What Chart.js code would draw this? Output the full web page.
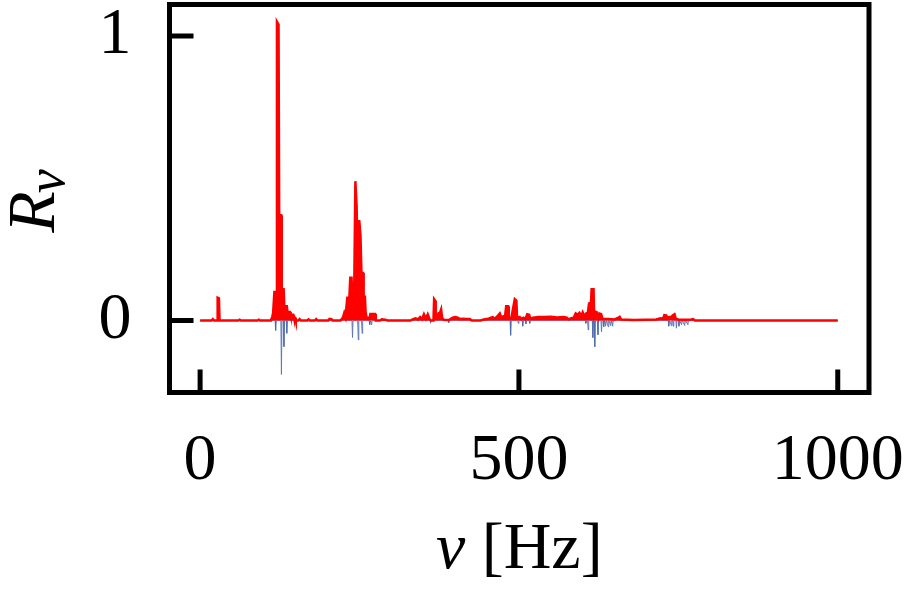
<!DOCTYPE html>
<html>
<head>
<meta charset="utf-8">
<script src="https://cdn.jsdelivr.net/npm/chart.js@4"></script>
<style>
  html, body { margin: 0; padding: 0; background: #fff; }
  #wrap { width: 911px; height: 591px; }
</style>
</head>
<body>
<div id="wrap"><canvas id="spec"></canvas></div>
<script>
const X_TICKS = [0, 500, 1000];
const Y_TICKS = [0, 1];

// positive part of the response (red), Hz / R
const redFreq = [0, 18, 20, 22, 26.5, 27.5, 29.5, 30.5, 60, 62, 64, 90, 92, 94,
  111, 113, 114.5, 116.5, 119.5, 120.5, 123, 124, 127, 128, 131, 132, 136, 137, 141, 142, 146, 147, 149, 150,
  154, 156, 158, 168, 170, 172, 180, 182, 184, 201, 203, 206, 208,
  220, 224, 226, 228, 231, 233, 235.5, 237.5, 239, 241.5, 243.5, 245.5, 247, 249.5, 251.5, 253, 255.5, 256.5, 258.5, 259.5, 261, 266, 267, 274.5, 275.5,
  282, 285, 290, 294,
  330, 334, 338, 342, 345, 348, 351, 354, 357, 360, 362, 366, 367, 368.5, 369.5, 372, 374, 376, 378, 379.5, 382, 390, 396, 400, 404, 408, 412, 418, 423, 426,
  440, 445, 452, 456, 459, 462, 466, 470, 472, 476, 478, 480, 483, 484, 488, 493.5, 496, 497, 501, 504, 507, 510, 513, 516, 518, 522, 530, 540, 550, 560, 570, 575, 578,
  582, 586, 589, 592, 595, 598, 600, 603, 606, 608, 610, 613, 614, 617, 618, 621, 623, 625, 627, 629, 631, 640, 650, 656, 658, 660, 670, 680,
  700, 715, 722, 726, 728, 731, 733, 736, 739, 741, 744, 746, 750, 760, 770, 773, 776, 1000];
const redVal = [0, 0, 0.005, 0, 0, 0.08, 0.078, 0, 0, 0.003, 0, 0, 0.003, 0,
  0, 0.012, 0.026, 0.1, 0.1, 1.05, 1.04, 0.37, 0.37, 0.11, 0.11, 0.05, 0.05, 0.03, 0.03, 0.02, 0.02, 0.01, 0.01, 0,
  0, 0.005, 0, 0, 0.004, 0, 0, 0.005, 0, 0, 0.006, 0.005, 0,
  0, 0.01, 0.026, 0.012, 0.084, 0.03, 0.15, 0.15, 0.07, 0.07, 0.49, 0.4, 0.1, 0.353, 0.3, 0.167, 0.167, 0.084, 0.084, 0.03, 0.01, 0.01, 0.023, 0.023, 0,
  0, 0.004, 0.003, 0,
  0, 0.005, 0.008, 0.004, 0.012, 0.005, 0.022, 0.006, 0.022, 0.004, 0, 0, 0.075, 0.07, 0.01, 0.015, 0.026, 0.026, 0.039, 0.01, 0.003, 0.002, 0.01, 0.012, 0.01, 0.005, 0.006, 0.005, 0.005, 0,
  0, 0.004, 0.006, 0.01, 0.012, 0.006, 0.015, 0.025, 0.012, 0.015, 0.01, 0.05, 0.05, 0.01, 0.008, 0.075, 0.07, 0.01, 0.013, 0.005, 0.01, 0.005, 0.022, 0.02, 0.006, 0.01, 0.012, 0.012, 0.013, 0.011, 0.012, 0.01, 0.004,
  0.008, 0.01, 0.025, 0.02, 0.027, 0.015, 0.029, 0.015, 0.026, 0.027, 0.06, 0.063, 0.11, 0.11, 0.015, 0.03, 0.028, 0.01, 0.024, 0.022, 0.006, 0.005, 0.004, 0.01, 0.013, 0.004, 0.003, 0.002,
  0.003, 0.004, 0.008, 0.006, 0.019, 0.018, 0.01, 0.012, 0.012, 0.018, 0.022, 0.006, 0.004, 0.003, 0.004, 0.005, 0, 0];

// negative part (blue)
const blueFreq = [0, 117.5, 118.5, 119.5, 126.5, 127.5, 128.5, 130.5, 131.5, 132.5, 135, 136, 137,
  238, 239, 240, 247, 248, 249, 253, 254, 255, 265, 266, 267, 268, 269, 270,
  360.5, 361.5, 362.5, 389, 390, 391,
  486, 487, 488, 498, 499, 500, 505, 506, 507, 510, 511, 512, 516, 517, 518,
  604, 605, 606, 607.5, 608.5, 609.5, 615, 616, 617, 618, 619, 620, 623, 624, 625, 628.5, 629.5, 630.5, 632, 633, 634, 636, 637, 640, 641, 644, 645, 647, 648,
  734, 735, 736, 739, 740, 741, 742, 743, 746, 747, 748, 750, 751, 752, 755, 756, 760, 761, 765, 766, 1000];
const blueVal = [0, 0, -0.035, 0, 0, -0.19, 0, 0, -0.092, 0, 0, -0.045, 0,
  0, -0.06, 0, 0, -0.068, 0, 0, -0.045, 0, 0, -0.015, 0, 0, -0.015, 0,
  0, -0.01, 0, 0, -0.008, 0,
  0, -0.052, 0, 0, -0.01, 0, 0, -0.02, 0, 0, -0.012, 0, 0, -0.01, 0,
  0, -0.01, 0, 0, -0.033, 0, 0, -0.06, 0, 0, -0.092, 0, 0, -0.05, 0, 0, -0.04, 0, 0, -0.022, 0, -0.02, 0, -0.022, 0, -0.018, 0, -0.02, 0,
  0, -0.02, 0, -0.018, 0, 0, -0.02, 0, 0, -0.027, 0, 0, -0.02, 0, -0.015, 0, -0.018, 0, -0.015, 0, 0];

const SERIF = "'Liberation Serif', 'DejaVu Serif', serif";

function pts(xs, ys) {
  return xs.map((x, i) => ({ x, y: ys[i] }));
}

// frame, inward ticks and axis titles
const framePlugin = {
  id: "frame",
  afterDraw(chart) {
    const { ctx, chartArea: a, scales } = chart;
    ctx.save();
    ctx.strokeStyle = "#000";
    ctx.lineWidth = 5;
    ctx.strokeRect(a.left, a.top, a.right - a.left, a.bottom - a.top);
    ctx.beginPath();
    for (const t of scales.y.ticks) {
      const py = scales.y.getPixelForValue(t.value);
      ctx.moveTo(a.left, py);
      ctx.lineTo(a.left + 24, py);
    }
    for (const t of scales.x.ticks) {
      const px = scales.x.getPixelForValue(t.value);
      ctx.moveTo(px, a.bottom);
      ctx.lineTo(px, a.bottom - 23);
    }
    ctx.stroke();

    ctx.fillStyle = "#000";
    ctx.textBaseline = "alphabetic";
    ctx.textAlign = "left";
    // x title
    const nu = "ν", rest = " [Hz]";
    ctx.font = "italic 66px " + SERIF;
    const w1 = ctx.measureText(nu).width;
    ctx.font = "66px " + SERIF;
    const w2 = ctx.measureText(rest).width;
    let x0 = (a.left + a.right) / 2 - (w1 + w2) / 2;
    ctx.font = "italic 66px " + SERIF;
    ctx.fillText(nu, x0, 568);
    ctx.font = "66px " + SERIF;
    ctx.fillText(rest, x0 + w1, 568);

    // y title, rotated
    ctx.translate(54, 200);
    ctx.rotate(-Math.PI / 2);
    ctx.font = "italic 68px " + SERIF;
    const wr = ctx.measureText("R").width;
    ctx.font = "italic 54px " + SERIF;
    const wn = ctx.measureText("ν").width;
    const s = -(wr + wn) / 2;
    ctx.font = "italic 68px " + SERIF;
    ctx.fillText("R", s, 0);
    ctx.font = "italic 54px " + SERIF;
    ctx.fillText("ν", s + wr - 2, 10);
    ctx.restore();
  },
};

new Chart(document.getElementById("spec"), {
  type: "line",
  data: {
    datasets: [
      {
        data: pts(redFreq, redVal),
        borderColor: "#ff0000",
        backgroundColor: "#ff0000",
        borderWidth: 2.5,
        fill: "origin",
        pointRadius: 0,
        tension: 0,
        order: 1,
      },
      {
        data: pts(blueFreq, blueVal),
        borderColor: "rgba(70, 100, 170, 0.7)",
        backgroundColor: "rgba(70, 100, 170, 0.45)",
        borderWidth: 1,
        fill: "origin",
        pointRadius: 0,
        tension: 0,
        order: 2,
      },
    ],
  },
  options: {
    responsive: true,
    maintainAspectRatio: false,
    animation: false,
    layout: { padding: { left: 0, top: 4.5, right: 42, bottom: 0 } },
    plugins: { legend: { display: false }, tooltip: { enabled: false } },
    scales: {
      x: {
        type: "linear",
        min: -48,
        max: 1049,
        afterBuildTicks: (s) => { s.ticks = X_TICKS.map((v) => ({ value: v })); },
        afterFit: (s) => {
          s.height = 198.5;
          s.paddingLeft = 0;
          s.paddingRight = 0;
        },
        grid: { display: false, drawTicks: false },
        border: { display: false },
        ticks: {
          color: "#000",
          padding: 30,
          maxRotation: 0,
          font: { family: SERIF, size: 66 },
          callback: (v) => String(v),
        },
      },
      y: {
        type: "linear",
        min: -0.253,
        max: 1.111,
        afterBuildTicks: (s) => { s.ticks = Y_TICKS.map((v) => ({ value: v })); },
        afterFit: (s) => {
          s.width = 169.5;
          s.paddingTop = 0;
          s.paddingBottom = 0;
        },
        grid: { display: false, drawTicks: false },
        border: { display: false },
        ticks: {
          color: "#000",
          padding: 38,
          font: { family: SERIF, size: 66 },
          callback: (v) => String(v),
        },
      },
    },
  },
  plugins: [framePlugin],
});
</script>
</body>
</html>
